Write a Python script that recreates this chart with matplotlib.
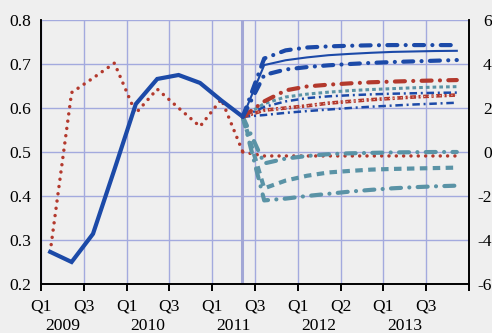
import numpy as np
import matplotlib
matplotlib.use("Agg")
import matplotlib.pyplot as plt
from matplotlib.transforms import blended_transform_factory

plt.rcParams['font.family'] = ['Liberation Serif', 'DejaVu Serif']
plt.rcParams['axes.unicode_minus'] = False

# ---------------- data ----------------
# quarter index: 0 = 2009Q1 ... 19 = 2013Q4
hist_q = np.arange(10)
fc_q = np.arange(9, 20)

blue_hist = [0.273, 0.250, 0.314, 0.46, 0.609, 0.666, 0.675, 0.657, 0.617, 0.580]
red_hist = [0.273, 0.635, 0.668, 0.702, 0.588, 0.643, 0.600, 0.558, 0.620, 0.500]

# forecasts (right axis units)
red_dot_fc = [0.0, -0.18, -0.18, -0.18, -0.18, -0.18, -0.18, -0.18, -0.18, -0.18, -0.18]
blue_dd_top = [1.6, 4.25, 4.62, 4.75, 4.80, 4.83, 4.85, 4.86, 4.86, 4.86, 4.86]
blue_solid = [1.6, 3.95, 4.17, 4.30, 4.40, 4.46, 4.51, 4.55, 4.57, 4.59, 4.60]
blue_dd_2 = [1.6, 3.50, 3.75, 3.86, 3.94, 4.00, 4.05, 4.09, 4.12, 4.15, 4.18]
red_dd = [1.6, 2.30, 2.80, 2.98, 3.06, 3.12, 3.17, 3.20, 3.23, 3.25, 3.27]
teal_dot = [1.6, 2.20, 2.50, 2.63, 2.72, 2.79, 2.84, 2.88, 2.92, 2.95, 2.97]
blue_thin_dd = [1.6, 2.05, 2.30, 2.45, 2.53, 2.58, 2.62, 2.65, 2.67, 2.69, 2.70]
red_sq = [1.6, 1.90, 2.00, 2.10, 2.22, 2.30, 2.38, 2.44, 2.50, 2.55, 2.59]
blue_thin_dd2 = [1.6, 1.68, 1.78, 1.86, 1.93, 2.00, 2.06, 2.11, 2.16, 2.20, 2.24]
teal_dd_up = [1.6, -0.52, -0.30, -0.18, -0.10, -0.06, -0.04, -0.02, -0.01, 0.0, 0.0]
teal_dash = [1.6, -1.65, -1.30, -1.08, -0.93, -0.86, -0.80, -0.77, -0.75, -0.73, -0.71]
teal_dd_low = [1.6, -2.20, -2.12, -2.00, -1.90, -1.80, -1.72, -1.65, -1.60, -1.56, -1.53]

tick_pos = [0, 2, 4, 6, 8, 10, 12, 14, 16, 18, 20]
tick_labels = ['Q1', 'Q3', 'Q1', 'Q3', 'Q1', 'Q3', 'Q1', 'Q2', 'Q1', 'Q3', '']
years = ['2009', '2010', '2011', '2012', '2013']
year_pos = [1, 5, 9, 13, 17]
left_ticks = [0.2, 0.3, 0.4, 0.5, 0.6, 0.7, 0.8]
right_ticks = [-6, -4, -2, 0, 2, 4, 6]

# ---------------- style ----------------
BLUE = '#1c4aa8'
RED = '#b3392d'
TEAL = '#5a93a6'
GRID = '#a3aade'
BG = '#efefef'
OFF = 0.43

fig = plt.figure(figsize=(4.92, 3.33), dpi=100, facecolor=BG)
ax = fig.add_axes([41/492, 49/333, 428/492, 264/333])
ax.set_facecolor(BG)
ax2 = ax.twinx()

ax.set_xlim(0, 20)
ax.set_ylim(0.2, 0.8)
ax2.set_ylim(-6, 6)

ax.set_yticks(left_ticks)
ax.set_yticklabels([f'{v:.1f}' for v in left_ticks])
ax2.set_yticks(right_ticks)
ax2.set_yticklabels([str(v) for v in right_ticks])
ax.set_xticks(tick_pos)
ax.set_xticklabels(tick_labels)

fs = 12.6
ax.tick_params(axis='y', length=0, pad=7.0, labelsize=fs, colors='black')
ax2.tick_params(axis='y', length=0, pad=16.4, labelsize=fs, colors='black')
for lbl in ax2.get_yticklabels():
    lbl.set_horizontalalignment('right')
ax.tick_params(axis='x', length=5, width=1.4, pad=5.5, labelsize=fs, direction='out')

ax.grid(True, color=GRID, lw=1.0)
ax.set_axisbelow(True)
for sp in ['top']:
    ax.spines[sp].set_visible(False)
    ax2.spines[sp].set_visible(False)
for a in (ax, ax2):
    for sp in ['left', 'right', 'bottom']:
        a.spines[sp].set_color('black')
        a.spines[sp].set_linewidth(1.2)

ax.axvline(9.4, color='#a2a7d6', lw=2.2, zorder=1.5)

tr = blended_transform_factory(ax.transData, ax.transAxes)
for y, p in zip(years, year_pos):
    ax.text(p, -0.128, y, transform=tr, ha='center', va='top', fontsize=fs)

hx = hist_q + OFF
fx = fc_q + OFF

# historical
ax.plot(hx, red_hist, color=RED, lw=2.5, linestyle=(0, (0.01, 2.1)),
        dash_capstyle='round', zorder=3)
ax.plot(hx, blue_hist, color=BLUE, lw=3.0, solid_joinstyle='miter', zorder=4)

thick_dd = (0, (2.4, 2.0, 0.01, 2.0))
thin_dd = (0, (3.0, 1.5, 0.8, 1.5))

# forecasts
ax2.plot(fx, red_dot_fc, color=RED, lw=2.5, linestyle=(0, (0.01, 2.1)),
         dash_capstyle='round')
ax2.plot(fx, teal_dd_low, color=TEAL, lw=3.0, linestyle=thick_dd, dash_capstyle='round')
ax2.plot(fx, teal_dash, color=TEAL, lw=3.0, linestyle=(0, (1.8, 1.3)))
ax2.plot(fx, teal_dd_up, color=TEAL, lw=3.0, linestyle=thick_dd, dash_capstyle='round')
ax2.plot(fx, blue_thin_dd2, color=BLUE, lw=1.8, linestyle=thin_dd)
ax2.plot(fx, red_sq, color=RED, lw=2.6, linestyle=(0, (1.6, 0.7, 0.6, 0.7)))
ax2.plot(fx, red_sq, color='#e6b4ab', lw=0.7, linestyle=(0, (1.5, 2.5)))
ax2.plot(fx, blue_thin_dd, color=BLUE, lw=1.8, linestyle=thin_dd)
ax2.plot(fx, teal_dot, color=TEAL, lw=2.2, linestyle=(0, (1.2, 1.0)))
ax2.plot(fx, red_dd, color=RED, lw=3.0, linestyle=thick_dd, dash_capstyle='round')
ax2.plot(fx, blue_dd_2, color=BLUE, lw=3.0, linestyle=thick_dd, dash_capstyle='round')
ax2.plot(fx, blue_solid, color=BLUE, lw=1.5)
ax2.plot(fx, blue_dd_top, color=BLUE, lw=3.0, linestyle=thick_dd, dash_capstyle='round')

fig.savefig('out.png', dpi=100, facecolor=BG)
